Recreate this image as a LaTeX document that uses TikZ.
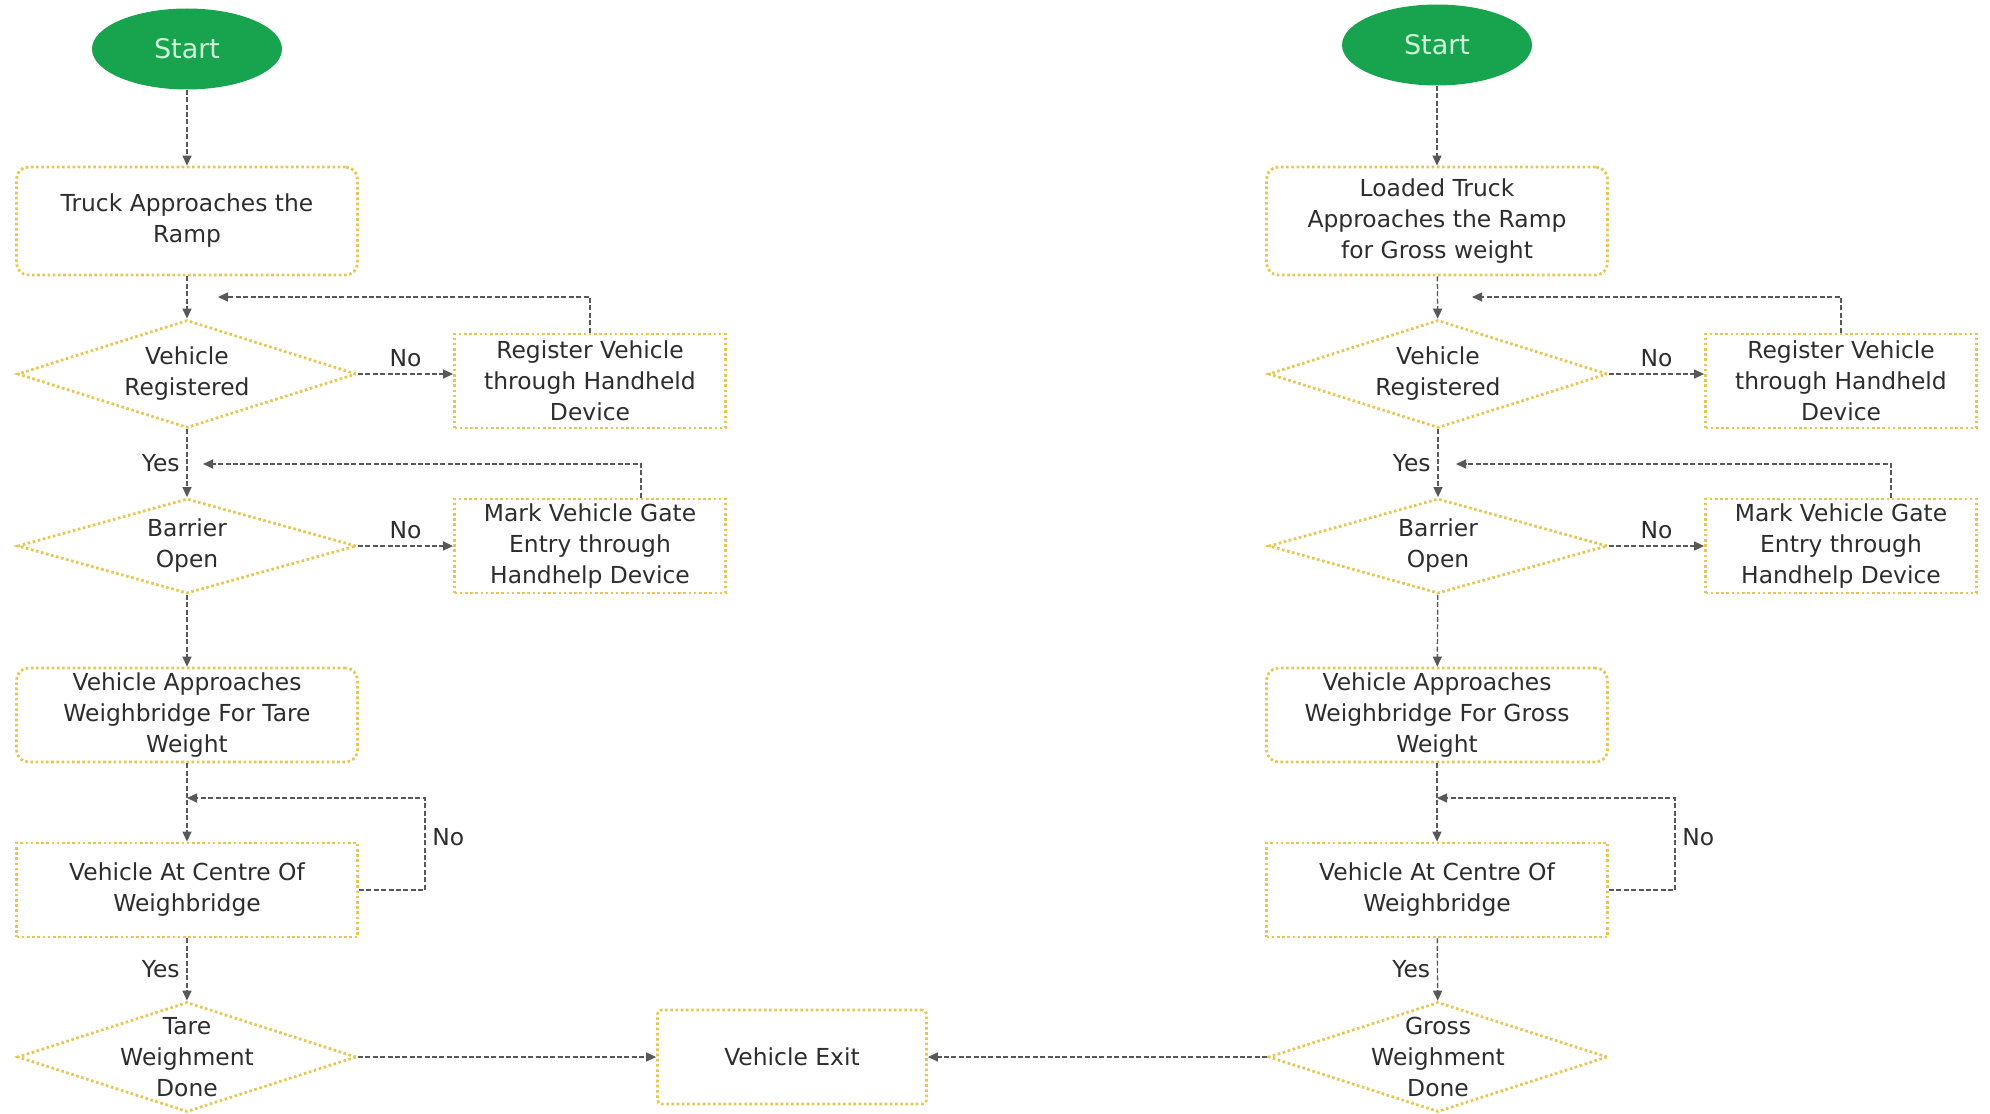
\documentclass[tikz,border=0pt]{standalone}
\usepackage{fontspec}
\setmainfont{DejaVu Sans}
\usetikzlibrary{shapes.geometric,arrows.meta,calc}
\definecolor{startgreen}{RGB}{24,164,78}
\definecolor{startlight}{RGB}{205,245,215}
\definecolor{boxgold}{RGB}{232,198,82}
\definecolor{flowgray}{RGB}{88,88,88}
\definecolor{textgray}{RGB}{45,45,45}
\begin{document}
\begin{tikzpicture}[x=0.5pt, y=-0.5pt,
    every node/.style={font=\fontsize{11.7}{15.5}\selectfont, text=textgray},
    startnode/.style={ellipse, fill=startgreen, minimum width=95pt,
          minimum height=40.5pt, font=\fontsize{13.5}{16}\selectfont, text=startlight},
    box/.style={draw=boxgold, line width=1.4pt, dash pattern=on 1.3pt off 1.3pt,
          align=center, minimum width=170.5pt, minimum height=47pt, inner sep=2pt},
    roundbox/.style={box, rounded corners=6pt},
    sidebox/.style={box, minimum width=135.5pt},
    decision/.style={diamond, draw=boxgold, line width=1.4pt, dash pattern=on 1.3pt off 1.3pt,
          minimum width=169.5pt, inner sep=0pt},
    flow/.style={draw=flowgray, line width=0.7pt, dash pattern=on 2.5pt off 1.2pt,
          -{Triangle[length=5pt,width=4.5pt]}}]
    \useasboundingbox (0,0) rectangle (1990,1113);

    \node[startnode] (start1) at (187,49) {Start};
    \node[roundbox, minimum height=54pt] (truck1) at (187,221) {Truck Approaches the\\Ramp};
    \node[decision, minimum height=54pt, label={[align=center]center:Vehicle\\Registered}] (reg1) at (187,374) {};
    \node[sidebox] (regdev1) at (590,381) {Register Vehicle\\through Handheld\\Device};
    \node[decision, minimum height=47.5pt, label={[align=center]center:Barrier\\Open}] (bar1) at (187,546) {};
    \node[sidebox] (mark1) at (590,546) {Mark Vehicle Gate\\Entry through\\Handhelp Device};
    \node[roundbox] (appr1) at (187,715) {Vehicle Approaches\\Weighbridge For Tare\\Weight};
    \node[box] (cent1) at (187,890) {Vehicle At Centre Of\\Weighbridge};
    \node[decision, minimum height=55pt, label={[align=center]center:Tare\\Weighment\\Done}] (tare1) at (187,1057) {};
    \coordinate (back1) at (218,297);
    \coordinate (back2) at (203,464);
    \coordinate (turn1) at (425,798);

    \node[box, minimum width=134.5pt, rounded corners=2pt] (exit) at (792,1057) {Vehicle Exit};

    \node[startnode] (start2) at (1437,45) {Start};
    \node[roundbox, minimum height=54pt] (truck2) at (1437,221) {Loaded Truck\\Approaches the Ramp\\for Gross weight};
    \node[decision, minimum height=54pt, label={[align=center]center:Vehicle\\Registered}] (reg2) at (1438,374) {};
    \node[sidebox] (regdev2) at (1841,381) {Register Vehicle\\through Handheld\\Device};
    \node[decision, minimum height=47.5pt, label={[align=center]center:Barrier\\Open}] (bar2) at (1438,546) {};
    \node[sidebox] (mark2) at (1841,546) {Mark Vehicle Gate\\Entry through\\Handhelp Device};
    \node[roundbox] (appr2) at (1437,715) {Vehicle Approaches\\Weighbridge For Gross\\Weight};
    \node[box] (cent2) at (1437,890) {Vehicle At Centre Of\\Weighbridge};
    \node[decision, minimum height=55pt, label={[align=center]center:Gross\\Weighment\\Done}] (gross2) at (1438,1057) {};
    \coordinate (back3) at (1472,297);
    \coordinate (back4) at (1456,464);
    \coordinate (turn2) at (1675,798);

    \draw[flow] (start1) -- (truck1);
    \draw[flow] (truck1) -- (reg1);
    \draw[flow] (reg1.east) -- node[above]{No} (reg1.east -| regdev1.west);
    \draw[flow] (regdev1.north) |- (back1);
    \draw[flow] (reg1) -- node[left]{Yes} (bar1);
    \draw[flow] (bar1.east) -- node[above]{No} (bar1.east -| mark1.west);
    \draw[flow] ($(mark1.north)+(51,0)$) |- (back2);
    \draw[flow] (bar1) -- (appr1);
    \draw[flow] (appr1) -- (cent1);
    \draw[flow] (cent1.east) -| node[pos=0.79, right]{No} (turn1) -- (turn1 -| cent1.north);
    \draw[flow] (cent1) -- node[left]{Yes} (tare1);
    \draw[flow] (tare1.east) -- (exit.west);

    \draw[flow] (start2) -- (truck2);
    \draw[flow] (truck2) -- (reg2);
    \draw[flow] (reg2.east) -- node[above]{No} (reg2.east -| regdev2.west);
    \draw[flow] (regdev2.north) |- (back3);
    \draw[flow] (reg2) -- node[left]{Yes} (bar2);
    \draw[flow] (bar2.east) -- node[above]{No} (bar2.east -| mark2.west);
    \draw[flow] ($(mark2.north)+(50,0)$) |- (back4);
    \draw[flow] (bar2) -- (appr2);
    \draw[flow] (appr2) -- (cent2);
    \draw[flow] (cent2.east) -| node[pos=0.79, right]{No} (turn2) -- (turn2 -| cent2.north);
    \draw[flow] (cent2) -- node[left]{Yes} (gross2);
    \draw[flow] (gross2.west) -- (exit.east);
\end{tikzpicture}
\end{document}
